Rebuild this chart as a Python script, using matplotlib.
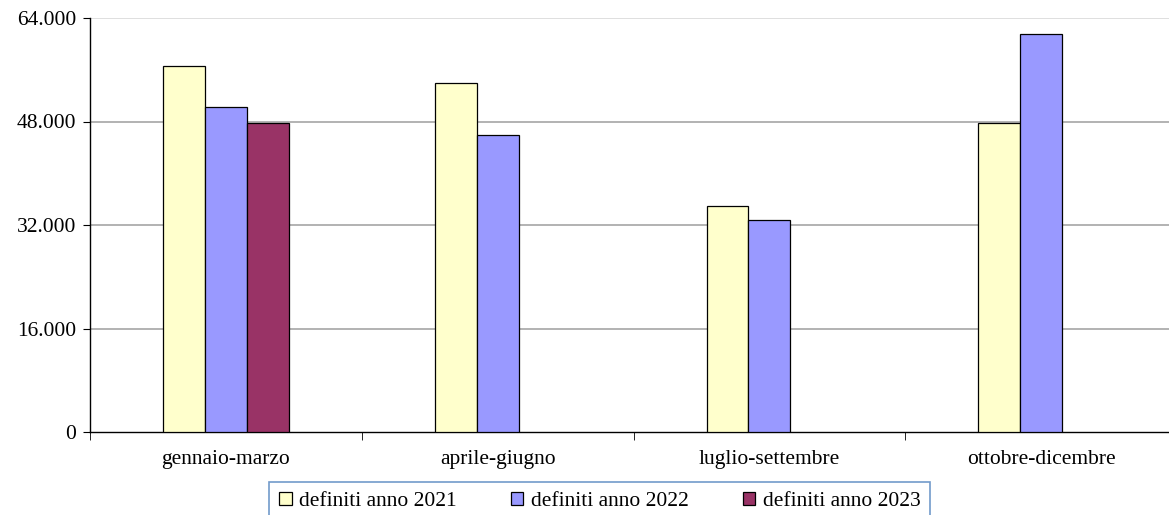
import numpy as np
import matplotlib.pyplot as plt
from matplotlib.ticker import FuncFormatter

# DATA
categories = ["gennaio-marzo", "aprile-giugno", "luglio-settembre", "ottobre-dicembre"]
anno_2021 = [56600, 54000, 35000, 47800]
anno_2022 = [50200, 45900, 32800, 61500]
anno_2023 = [47800, None, None, None]
series_labels = ["definiti anno 2021", "definiti anno 2022", "definiti anno 2023"]
colors = ["#FFFFCC", "#9999FF", "#993366"]
yticks = [0, 16000, 32000, 48000, 64000]

plt.rcParams['font.family'] = ['Liberation Serif', 'DejaVu Serif']

fig = plt.figure(figsize=(11.69, 5.15), dpi=100)
# axis runs slightly past the right edge, as in the original
ax = fig.add_axes([90 / 1169, 83 / 515, 1087 / 1169, 414 / 515])

x = np.arange(len(categories))
w = 0.154
all_series = [anno_2021, anno_2022, anno_2023]
for i, vals in enumerate(all_series):
    xs = [x[j] + (i - 1) * w for j in range(len(vals)) if vals[j] is not None]
    ys = [v for v in vals if v is not None]
    ax.bar(xs, ys, width=w, color=colors[i], edgecolor="black", linewidth=0.9,
           label=series_labels[i], zorder=3)

ax.set_xlim(-0.5, len(categories) - 0.5)
ax.set_ylim(0, 64000)
ax.set_yticks(yticks)
ax.yaxis.set_major_formatter(FuncFormatter(lambda v, p: "0" if v == 0 else f"{int(v):,}".replace(",", ".")))

# gridlines
for t in yticks[1:]:
    c = "#d9d9d9" if t == 64000 else "#a6a6a6"
    ax.axhline(t, color=c, linewidth=1.2, zorder=1)

# category ticks on boundaries
ax.set_xticks(x)
ax.set_xticklabels(categories)
ax.tick_params(axis="x", length=0, pad=13, labelsize=15.5)
ax.set_xticks(np.arange(-0.5, len(categories) + 0.5, 1), minor=True)
ax.tick_params(axis="x", which="minor", length=6, direction="out", color="black")
ax.tick_params(axis="y", length=5, direction="out", labelsize=15.5, pad=5)

for s in ["top", "right"]:
    ax.spines[s].set_visible(False)
ax.spines["left"].set_linewidth(1.0)
ax.spines["bottom"].set_linewidth(1.0)

leg = fig.legend(loc="upper center", bbox_to_anchor=(0.513, 0.064), ncol=3,
                 fontsize=15.5, frameon=True, fancybox=False, handlelength=0.6,
                 handleheight=0.6, handletextpad=0.35, columnspacing=2.5,
                 borderpad=0.45, borderaxespad=0)
leg.get_frame().set_edgecolor("#4f81bd")
leg.get_frame().set_linewidth(1.2)

fig.savefig("out.png", dpi=100)
